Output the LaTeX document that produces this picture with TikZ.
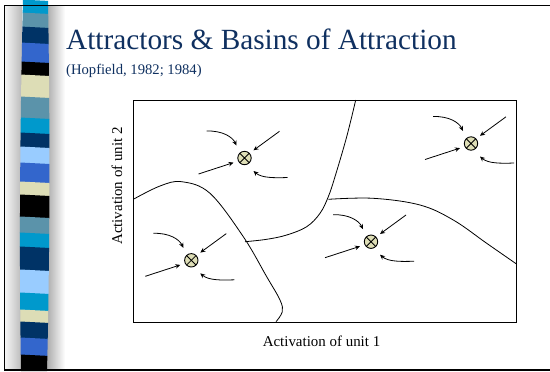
\documentclass[tikz,border=0pt]{standalone}
\usepackage{fontspec}
\setmainfont{Liberation Serif}
\usetikzlibrary{arrows.meta}
\definecolor{scyan}{HTML}{0099CC}
\definecolor{ssteel}{HTML}{5B93AA}
\definecolor{snavy}{HTML}{003366}
\definecolor{sroyal}{HTML}{3366CC}
\definecolor{sbeige}{HTML}{DDDDB6}
\definecolor{slight}{HTML}{99CCFF}
\definecolor{titlecol}{HTML}{0F3060}
\definecolor{attrfill}{HTML}{DEDEB6}
\tikzset{
  arr/.style={line width=0.8bp, -{Stealth[length=5bp,width=4.5bp]}},
  attr/.style={circle, draw, line width=0.9bp, fill=attrfill, minimum size=13.4bp, inner sep=0pt,
    path picture={\draw[line width=0.8bp] (path picture bounding box.north west) -- (path picture bounding box.south east)
      (path picture bounding box.north east) -- (path picture bounding box.south west);}},
  bound/.style={line width=0.8bp},
  lab/.style={font=\fontsize{15}{17}\selectfont, inner sep=0pt}
}
\newcommand\attractor[2]{%
  \node[attr] (#1) at (#2) {};
  \begin{scope}[shift={(#2)}]
    \draw[arr] (-38,-27) .. controls (-22,-27.5) and (-12,-21) .. (-8,-12.5);
    \draw[arr] (35,-26.7) -- (9,-7.7);
    \draw[arr] (-46,16) -- (-11,4.6);
    \draw[arr] (43,19.5) .. controls (30,20) and (17,20) .. (9,13);
  \end{scope}}
\begin{document}
\begin{tikzpicture}[x=1bp,y=-1bp]
\useasboundingbox (0,0) rectangle (550,371);
\fill[white] (0,0) rectangle (550,371);
% side shading
\shade[left color=gray!8, right color=gray!55] (5,5) rectangle (22,370);
\shade[left color=gray!65, right color=white] (47,5) rectangle (65,370);
% stripe
\begin{scope}
\clip (23,0) .. controls (20,120) and (19,250) .. (21,371) -- (47,371) .. controls (50,250) and (50,120) .. (48,0) -- cycle;
\foreach \a/\b/\c in {0/13/scyan,13/27/ssteel,27/43/snavy,43/62/sroyal,62/75/black,75/97/sbeige,
  97/118/ssteel,118/133/scyan,133/147/snavy,147/163/slight,163/182/sroyal,182/195/sbeige,
  195/217/black,217/233/ssteel,233/247/scyan,247/270/snavy,270/293/slight,293/310/scyan,
  310/322/sbeige,322/338/snavy,338/355/sroyal,355/375/black}
  \fill[\c] (10,\a-1) -- (60,\a+1.5) -- (60,\b+2) -- (10,\b-0.5) -- cycle;
\end{scope}
% frame
\draw[line width=1.6bp] (560,5.5) -- (4.6,5.5) -- (4.6,370.2) -- (560,370.2);
% title
\node[anchor=base west, inner sep=0pt, text=titlecol, font=\fontsize{29.4}{31}\selectfont] (title) at (66,49) {Attractors \& Basins of Attraction};
\node[anchor=base west, inner sep=0pt, text=titlecol, font=\fontsize{14.7}{16}\selectfont] (sub) at (66,74) {(Hopfield, 1982; 1984)};
% box
\draw[line width=0.9bp] (133,100) rectangle (516.5,322);
% boundaries
\draw[bound] plot[smooth, tension=0.6] coordinates {(133.3,199.3) (160,186) (181.7,181.7) (210,193.3) (243.3,236.7) (266.7,276.7) (280,300) (282.3,311.7) (276,321.7)};
\draw[bound] plot[smooth, tension=0.6] coordinates {(355.7,100) (346.7,136.7) (335,176.7) (328.3,196.7) (320,213.3) (306.7,226.7) (286.7,235) (266.7,239.3) (245,241.7)};
\draw[bound] plot[smooth, tension=0.6] coordinates {(328.3,199.3) (373.3,198.3) (420,205) (453.3,220) (486.7,243.3) (516.5,264)};
% attractors
\attractor{A1}{244.5,158}
\attractor{A2}{471,143.5}
\attractor{A3}{191.3,260.3}
\attractor{A4}{371,241.7}
% axis labels
\node[lab, anchor=base] (xlab) at (321.5,346) {Activation of unit 1};
\node[lab, anchor=base, rotate=90] (ylab) at (122,186) {Activation of unit 2};
\end{tikzpicture}
\end{document}
